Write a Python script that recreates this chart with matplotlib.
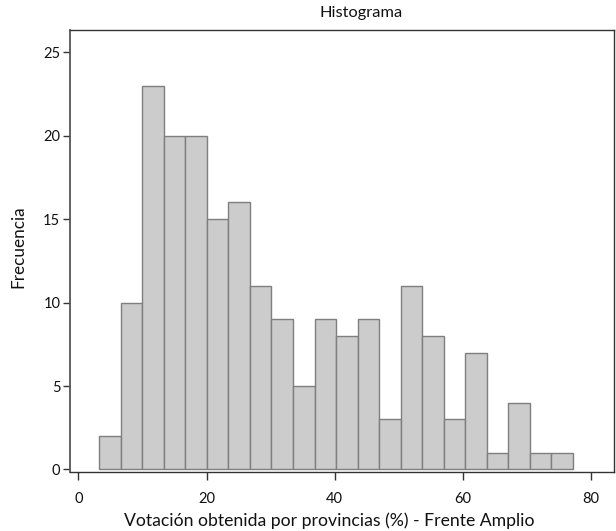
import matplotlib
matplotlib.use("Agg")
import matplotlib.pyplot as plt
import numpy as np

plt.rcParams['font.family'] = ['Lato', 'DejaVu Sans']

counts = [2, 10, 23, 20, 20, 15, 16, 11, 9, 5, 9, 8, 9, 3, 11, 8, 3, 7, 1, 4, 1, 1]
bin_start = 3.27
bin_width = 3.358
x_ticks = [0, 20, 40, 60, 80]
y_ticks = [0, 5, 10, 15, 20, 25]
title = "Histograma"
x_label = "Votación obtenida por provincias (%) - Frente Amplio"
y_label = "Frecuencia"

W, H = 616, 531
fig = plt.figure(figsize=(W / 100, H / 100), dpi=100)
ax = fig.add_axes([70 / W, (H - 472.3) / H, 544 / W, 442.3 / H])

lefts = bin_start + bin_width * np.arange(len(counts))
ax.bar(lefts, counts, width=bin_width, align='edge', color='#cccccc',
       edgecolor='#7f7f7f', linewidth=1.0, zorder=2)

ax.set_xlim(-1.30, 83.58)
ax.set_ylim(-0.17, 26.33)
ax.set_xticks(x_ticks)
ax.set_yticks(y_ticks)

for s in ax.spines.values():
    s.set_color('#333333')
    s.set_linewidth(1.0)
ax.spines['left'].set_color('#555555')
ax.spines['left'].set_linewidth(1.3)

ax.tick_params(axis='x', direction='out', length=6, width=1.0, color='#333333',
               labelsize=10.5, pad=8, labelcolor='#111111')
ax.tick_params(axis='y', direction='out', length=5, width=1.0, color='#333333',
               labelsize=10.5, pad=2, labelcolor='#111111')

fig.text(361 / W, 1 - 13 / H, title, ha='center', va='center', fontsize=11.8, color='#111111')
fig.text(329 / W, 1 - 521 / H, x_label, ha='center', va='center', fontsize=12.7, color='#111111')
fig.text(18 / W, 1 - 247 / H, y_label, ha='center', va='center', rotation=90,
         fontsize=12.3, color='#111111')

fig.savefig("out.png", dpi=100)
